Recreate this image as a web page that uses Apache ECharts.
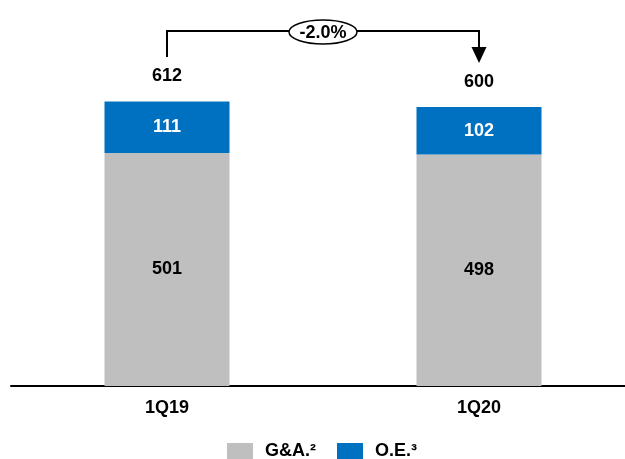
<!DOCTYPE html>
<html>
<head>
<meta charset="utf-8">
<script src="https://cdn.jsdelivr.net/npm/echarts@6/dist/echarts.min.js"></script>
<style>
  html, body { margin: 0; padding: 0; background: #fff; }
  #chart { width: 625px; height: 459px; }
</style>
</head>
<body>
<div id="chart"></div>
<script>
// data
const quarters = ['1Q19', '1Q20']
const gaValues = [501, 498]
const oeValues = [111, 102]
const totals = [612, 600]
const changeText = '-2.0%'

const font = 'Liberation Sans, Arial, sans-serif'
const chart = echarts.init(document.getElementById('chart'))

const option = {
  animation: false,
  textStyle: { fontFamily: font },
  grid: { left: 11, width: 624, top: 14, height: 372, outerBoundsMode: 'none', containLabel: false },
  legend: {
    data: ['G&A.²', 'O.E.³'],
    top: 437,
    left: 222,
    itemWidth: 26,
    itemHeight: 16,
    itemGap: 21,
    icon: 'rect',
    textStyle: { fontFamily: font, fontSize: 18, fontWeight: 'bold', color: '#000', padding: [0, 0, 0, 7] }
  },
  xAxis: {
    type: 'category',
    data: quarters,
    axisTick: { show: false },
    axisLine: { lineStyle: { color: '#000', width: 2 } },
    axisLabel: { color: '#000', fontSize: 18, fontWeight: 'bold', margin: 13 }
  },
  yAxis: { type: 'value', min: 0, max: 800, show: false },
  series: [
    {
      name: 'G&A.²',
      type: 'bar',
      stack: 'a',
      barWidth: 125,
      data: gaValues,
      itemStyle: { color: '#BFBFBF' },
      label: { show: true, position: 'inside', color: '#000', fontSize: 18, fontWeight: 'bold' }
    },
    {
      name: 'O.E.³',
      type: 'bar',
      stack: 'a',
      barWidth: 125,
      data: oeValues,
      itemStyle: { color: '#0070C0' },
      label: { show: true, position: 'inside', color: '#fff', fontSize: 18, fontWeight: 'bold' }
    },
    {
      name: 'total',
      type: 'bar',
      barWidth: 125,
      barGap: '-100%',
      data: totals,
      z: 0,
      itemStyle: { color: 'rgba(0,0,0,0)' },
      label: { show: true, position: 'top', distance: 16, color: '#000', fontSize: 18, fontWeight: 'bold' }
    }
  ]
}

chart.setOption(option)

// bracket with change bubble, anchored to the bars
const p0 = chart.convertToPixel({ xAxisIndex: 0, yAxisIndex: 0 }, [0, totals[0]])
const p1 = chart.convertToPixel({ xAxisIndex: 0, yAxisIndex: 0 }, [1, totals[1]])
const yTop = 31
const midX = (p0[0] + p1[0]) / 2
const lineStyle = { stroke: '#000', lineWidth: 2, fill: null }

chart.setOption({
  graphic: [
    {
      type: 'polyline',
      shape: { points: [[p0[0], 57], [p0[0], yTop], [p1[0], yTop], [p1[0], 50]] },
      style: lineStyle
    },
    {
      type: 'polygon',
      shape: { points: [[p1[0] - 7.5, 47], [p1[0] + 7.5, 47], [p1[0], 63]] },
      style: { fill: '#000' }
    },
    {
      type: 'ellipse',
      shape: { cx: midX, cy: yTop + 1, rx: 34, ry: 12 },
      style: { fill: '#fff', stroke: '#000', lineWidth: 1.5 }
    },
    {
      type: 'text',
      x: midX,
      y: yTop + 2,
      style: {
        text: changeText,
        fontFamily: font,
        fontSize: 18,
        fontWeight: 'bold',
        fill: '#000',
        align: 'center',
        verticalAlign: 'middle'
      }
    }
  ]
})
</script>
</body>
</html>
